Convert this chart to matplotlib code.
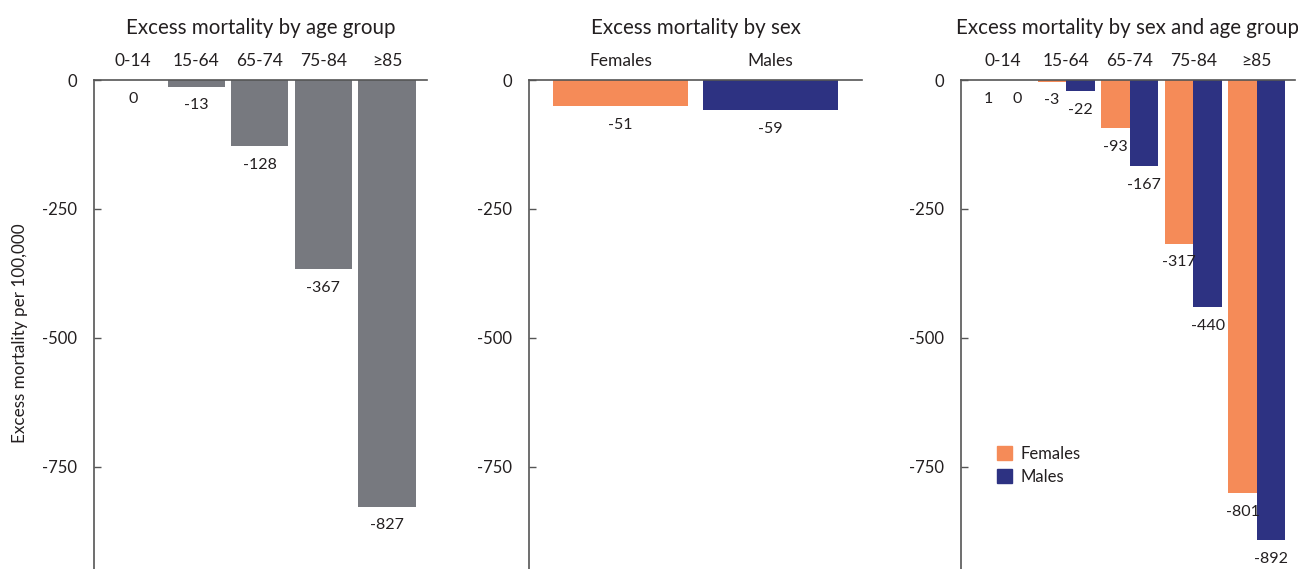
import matplotlib
matplotlib.use("Agg")
import matplotlib.pyplot as plt
import numpy as np
from matplotlib.patches import Patch

plt.rcParams['font.family'] = ['Lato', 'DejaVu Sans']

# data
age_groups = ['0-14', '15-64', '65-74', '75-84', '≥85']
age_values = [0, -13, -128, -367, -827]

sexes = ['Females', 'Males']
sex_values = [-51, -59]

female_by_age = [1, -3, -93, -317, -801]
male_by_age = [0, -22, -167, -440, -892]

gray = '#77797f'
orange = '#f58b58'
navy = '#2d3282'
txt = '#231f20'
axcol = '#555555'

fig = plt.figure(figsize=(12.98, 5.69), dpi=100)

H = 1 - 80 / 569
ax1 = fig.add_axes([94 / 1298, 0, 333 / 1298, H])
ax2 = fig.add_axes([529 / 1298, 0, 333 / 1298, H])
ax3 = fig.add_axes([961 / 1298, 0, 334 / 1298, H])


def style(ax, title):
    ax.set_ylim(-948, 0)
    ax.set_yticks([0, -250, -500, -750])
    ax.set_yticklabels(['0', '-250', '-500', '-750'])
    ax.spines['bottom'].set_visible(False)
    ax.spines['right'].set_visible(False)
    ax.spines['left'].set_color(axcol)
    ax.spines['top'].set_color(axcol)
    ax.spines['left'].set_linewidth(1.2)
    ax.spines['top'].set_linewidth(1.2)
    ax.tick_params(axis='y', direction='in', length=5, width=1, color=axcol,
                   pad=12, labelsize=12, labelcolor=txt)
    ax.tick_params(axis='x', top=True, bottom=False, labeltop=True,
                   labelbottom=False, length=0, pad=8, labelsize=12.5,
                   labelcolor=txt)
    ax.set_title(title, fontsize=14.8, color=txt, pad=33)


def label(ax, x, v):
    ax.annotate(str(v), (x, min(v, 0)), xytext=(0, -13.5), textcoords='offset points',
                ha='center', va='center', fontsize=11.5, color=txt)


# panel 1
x = np.arange(len(age_groups))
ax1.bar(x, age_values, width=0.9, color=gray)
for xi, v in zip(x, age_values):
    label(ax1, xi, v)
ax1.set_xlim(-0.61, 4.63)
ax1.set_xticks(x)
ax1.set_xticklabels(age_groups)
style(ax1, 'Excess mortality by age group')

# panel 2
x2 = np.arange(len(sexes))
ax2.bar(x2, sex_values, width=0.9, color=[orange, navy])
for xi, v in zip(x2, sex_values):
    label(ax2, xi, v)
ax2.set_xlim(-0.61, 1.61)
ax2.set_xticks(x2)
ax2.set_xticklabels(sexes)
style(ax2, 'Excess mortality by sex')

# panel 3
w = 0.45
ax3.bar(x - w / 2, female_by_age, width=w, color=orange)
ax3.bar(x + w / 2, male_by_age, width=w, color=navy)
for xi, v in zip(x - w / 2, female_by_age):
    label(ax3, xi, v)
for xi, v in zip(x + w / 2, male_by_age):
    label(ax3, xi, v)
ax3.set_xlim(-0.66, 4.6)
ax3.set_xticks(x)
ax3.set_xticklabels(age_groups)
style(ax3, 'Excess mortality by sex and age group')
ax3.legend(handles=[Patch(color=orange, label='Females'), Patch(color=navy, label='Males')],
           loc='upper left', bbox_to_anchor=(0.108, 0.252), frameon=False,
           borderpad=0, borderaxespad=0, handlelength=0.9, handleheight=0.9,
           handletextpad=0.5, labelspacing=0.42, fontsize=12, labelcolor=txt)

fig.text(20 / 1298, 1 - 333 / 569, 'Excess mortality per 100,000', rotation=90,
         ha='center', va='center', fontsize=12.3, color=txt)

fig.savefig('out.png', dpi=100)
